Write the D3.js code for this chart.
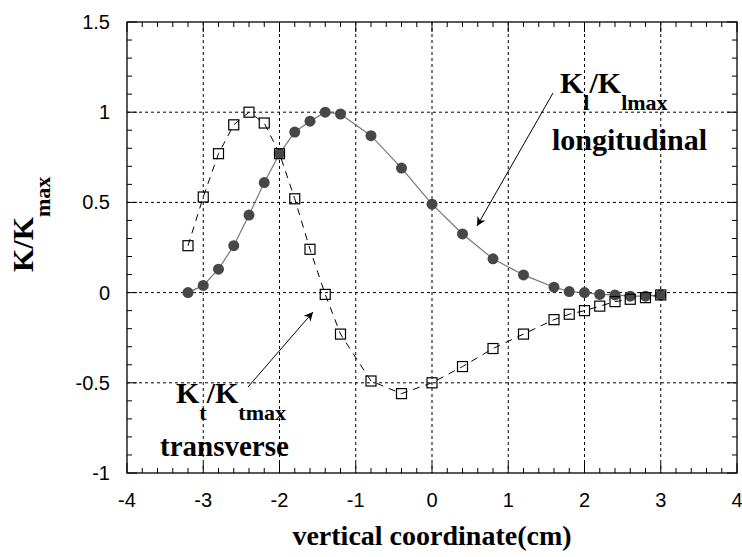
<!DOCTYPE html>
<html>
<head>
<meta charset="utf-8">
<script src="https://cdn.jsdelivr.net/npm/d3@7"></script>
<style>
  body { margin: 0; background: #fff; }
  svg { display: block; }
</style>
</head>
<body>
<svg id="chart" width="742" height="557"></svg>
<script>
// longitudinal: K_l / K_lmax (filled circles)
const longX = [-3.2, -3.0, -2.8, -2.6, -2.4, -2.2, -2.0, -1.8, -1.6, -1.4, -1.2, -0.8, -0.4, 0, 0.4, 0.8, 1.2, 1.6, 1.8, 2.0, 2.2, 2.4, 2.6, 2.8, 3.0];
const longY = [0.0, 0.04, 0.13, 0.26, 0.43, 0.61, 0.77, 0.89, 0.95, 1.0, 0.99, 0.87, 0.69, 0.49, 0.325, 0.187, 0.098, 0.03, 0.006, 0.0, -0.01, -0.013, -0.02, -0.02, -0.013];

// transverse: K_t / K_tmax (open squares)
const transX = [-3.2, -3.0, -2.8, -2.6, -2.4, -2.2, -2.0, -1.8, -1.6, -1.4, -1.2, -0.8, -0.4, 0, 0.4, 0.8, 1.2, 1.6, 1.8, 2.0, 2.2, 2.4, 2.6, 2.8, 3.0];
const transY = [0.26, 0.53, 0.77, 0.93, 1.0, 0.94, 0.77, 0.52, 0.24, -0.01, -0.23, -0.49, -0.56, -0.50, -0.41, -0.31, -0.23, -0.15, -0.12, -0.10, -0.075, -0.05, -0.037, -0.028, -0.013];

const xTicks = [-4, -3, -2, -1, 0, 1, 2, 3, 4];
const yTicks = [-1, -0.5, 0, 0.5, 1, 1.5];

const svg = d3.select("#chart");

const margin = {left: 127, right: 5, top: 22, bottom: 84};
const width = 742 - margin.left - margin.right;
const height = 557 - margin.top - margin.bottom;

const x = d3.scaleLinear().domain([-4, 4]).range([margin.left, margin.left + width]);
const y = d3.scaleLinear().domain([-1, 1.5]).range([margin.top + height, margin.top]);

const labelFont = "'Liberation Sans', Arial, sans-serif";
const titleFont = "'Liberation Serif', 'Times New Roman', serif";

// dotted grid at the major ticks
const grid = svg.append("g").attr("stroke", "#000").attr("stroke-width", 1).attr("stroke-dasharray", "3,3");
grid.selectAll(".gx")
    .data(xTicks.slice(1, -1))
    .join("line")
    .attr("x1", d => x(d)).attr("x2", d => x(d))
    .attr("y1", y(1.5)).attr("y2", y(-1));
grid.selectAll(".gy")
    .data(yTicks.slice(1, -1))
    .join("line")
    .attr("x1", x(-4)).attr("x2", x(4))
    .attr("y1", d => y(d)).attr("y2", d => y(d));

// inward ticks on all four sides
const minorX = d3.range(-4, 4.001, 0.2).map(v => +v.toFixed(1));
const minorY = d3.range(-1, 1.501, 0.1).map(v => +v.toFixed(1));

const ticks = svg.append("g").attr("stroke", "#000").attr("stroke-width", 1);
function tickLen(v, step) { return Math.abs(v / step - Math.round(v / step)) < 1e-6 ? 10 : 5; }

ticks.selectAll(".tb")
    .data(minorX)
    .join("line")
    .attr("x1", d => x(d)).attr("x2", d => x(d))
    .attr("y1", y(-1)).attr("y2", d => y(-1) - tickLen(d, 1));
ticks.selectAll(".tt")
    .data(minorX)
    .join("line")
    .attr("x1", d => x(d)).attr("x2", d => x(d))
    .attr("y1", y(1.5)).attr("y2", d => y(1.5) + tickLen(d, 1));
ticks.selectAll(".tl")
    .data(minorY)
    .join("line")
    .attr("y1", d => y(d)).attr("y2", d => y(d))
    .attr("x1", x(-4)).attr("x2", d => x(-4) + tickLen(d, 0.5));
ticks.selectAll(".tr")
    .data(minorY)
    .join("line")
    .attr("y1", d => y(d)).attr("y2", d => y(d))
    .attr("x1", x(4)).attr("x2", d => x(4) - tickLen(d, 0.5));

// frame
svg.append("rect")
    .attr("x", x(-4)).attr("y", y(1.5))
    .attr("width", x(4) - x(-4)).attr("height", y(-1) - y(1.5))
    .attr("fill", "none").attr("stroke", "#000").attr("stroke-width", 1.3);

// tick labels
svg.append("g").selectAll("text")
    .data(xTicks)
    .join("text")
    .attr("x", d => x(d)).attr("y", y(-1) + 34)
    .attr("text-anchor", "middle")
    .attr("font-family", labelFont).attr("font-size", 20)
    .text(d => d);

svg.append("g").selectAll("text")
    .data(yTicks)
    .join("text")
    .attr("x", x(-4) - 17).attr("y", d => y(d) + 7)
    .attr("text-anchor", "end")
    .attr("font-family", labelFont).attr("font-size", 20)
    .text(d => d);

// axis titles
svg.append("text")
    .attr("x", x(0)).attr("y", 545)
    .attr("text-anchor", "middle")
    .attr("font-family", titleFont).attr("font-weight", "bold").attr("font-size", 28)
    .text("vertical coordinate(cm)");

const yTitle = svg.append("text")
    .attr("transform", "translate(33,272) rotate(-90)")
    .attr("font-family", titleFont).attr("font-weight", "bold").attr("font-size", 30);
yTitle.append("tspan").text("K/K");
yTitle.append("tspan").attr("dy", 17).attr("font-size", 22).text("max");

// series lines
const longData = longX.map((v, i) => [v, longY[i]]);
const transData = transX.map((v, i) => [v, transY[i]]);
const line = d3.line().x(d => x(d[0])).y(d => y(d[1]));

svg.append("path")
    .datum(longData)
    .attr("d", line)
    .attr("fill", "none").attr("stroke", "#777").attr("stroke-width", 1.2);

svg.append("path")
    .datum(transData)
    .attr("d", line)
    .attr("fill", "none").attr("stroke", "#000").attr("stroke-width", 1)
    .attr("stroke-dasharray", "7,6");

// markers
svg.append("g").selectAll("circle")
    .data(longData)
    .join("circle")
    .attr("cx", d => x(d[0])).attr("cy", d => y(d[1]))
    .attr("r", 5.5)
    .attr("fill", "#474747");

svg.append("g").selectAll("rect")
    .data(transData)
    .join("rect")
    .attr("x", d => x(d[0]) - 5).attr("y", d => y(d[1]) - 5)
    .attr("width", 10).attr("height", 10)
    .attr("fill", "none").attr("stroke", "#000").attr("stroke-width", 1.2);

// annotations
svg.append("defs").append("marker")
    .attr("id", "arrow")
    .attr("viewBox", "0 0 10 10")
    .attr("refX", 10).attr("refY", 5)
    .attr("markerWidth", 9).attr("markerHeight", 9)
    .attr("markerUnits", "userSpaceOnUse")
    .attr("orient", "auto")
    .append("path")
    .attr("d", "M0,0 L10,5 L0,10 L3,5 Z")
    .attr("fill", "#000");

svg.append("line")
    .attr("x1", 553).attr("y1", 93).attr("x2", 477).attr("y2", 226)
    .attr("stroke", "#000").attr("stroke-width", 1)
    .attr("marker-end", "url(#arrow)");

svg.append("line")
    .attr("x1", 248).attr("y1", 387).attr("x2", 313).attr("y2", 312)
    .attr("stroke", "#000").attr("stroke-width", 1)
    .attr("marker-end", "url(#arrow)");

const annLong = svg.append("text")
    .attr("x", 560).attr("y", 93)
    .attr("font-family", titleFont).attr("font-weight", "bold").attr("font-size", 30);
annLong.append("tspan").text("K");
annLong.append("tspan").attr("dy", 17).attr("font-size", 22).text("l");
annLong.append("tspan").attr("dy", -17).text("/K");
annLong.append("tspan").attr("dy", 17).attr("font-size", 22).text("lmax");

svg.append("text")
    .attr("x", 552).attr("y", 150)
    .attr("font-family", titleFont).attr("font-weight", "bold").attr("font-size", 30)
    .text("longitudinal");

const annTrans = svg.append("text")
    .attr("x", 176).attr("y", 403)
    .attr("font-family", titleFont).attr("font-weight", "bold").attr("font-size", 30);
annTrans.append("tspan").text("K");
annTrans.append("tspan").attr("dy", 17).attr("font-size", 22).text("t");
annTrans.append("tspan").attr("dy", -17).text("/K");
annTrans.append("tspan").attr("dy", 17).attr("font-size", 22).text("tmax");

svg.append("text")
    .attr("x", 160).attr("y", 456)
    .attr("font-family", titleFont).attr("font-weight", "bold").attr("font-size", 29)
    .text("transverse");
</script>
</body>
</html>
